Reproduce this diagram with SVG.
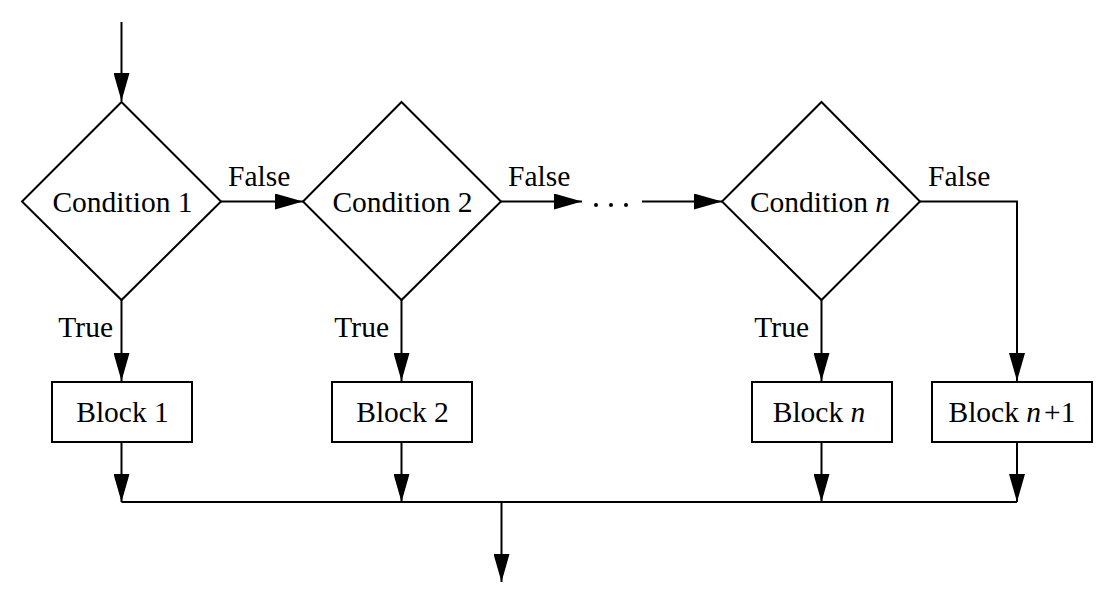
<svg xmlns="http://www.w3.org/2000/svg" width="1114" height="604" viewBox="0 0 1114 604">
<defs>
<marker id="ah" viewBox="0 0 28 16" refX="28" refY="8" markerWidth="28" markerHeight="16" markerUnits="userSpaceOnUse" orient="auto">
<path d="M0,0 L28,8 L0,16 Z" fill="#000"/>
</marker>
<style>
.s{fill:#fff;stroke:#000;stroke-width:2}
.c{fill:none;stroke:#000;stroke-width:2}
text{font-family:"Liberation Serif","Times New Roman",serif;font-size:29.5px;fill:#000}
.m{text-anchor:middle}
.i{font-style:italic}
</style>
</defs>
<rect width="1114" height="604" fill="#fff"/>
<g id="connectors">
<path class="c" d="M121.5,22 V101" marker-end="url(#ah)"/>
<path class="c" d="M221,201.5 H303" marker-end="url(#ah)"/>
<path class="c" d="M501,201.5 H582" marker-end="url(#ah)"/>
<path class="c" d="M642,201.5 H722" marker-end="url(#ah)"/>
<path class="c" d="M920,201.5 H1017 V381" marker-end="url(#ah)"/>
<path class="c" d="M121.5,300 V381" marker-end="url(#ah)"/>
<path class="c" d="M401.5,300 V381" marker-end="url(#ah)"/>
<path class="c" d="M821.5,300 V381" marker-end="url(#ah)"/>
<path class="c" d="M121.5,442 V502" marker-end="url(#ah)"/>
<path class="c" d="M401.5,442 V502" marker-end="url(#ah)"/>
<path class="c" d="M821.5,442 V502" marker-end="url(#ah)"/>
<path class="c" d="M1017,442 V502" marker-end="url(#ah)"/>
<path class="c" d="M121.5,502 H1017"/>
<path class="c" d="M501.5,502 V582" marker-end="url(#ah)"/>
<circle cx="596" cy="205" r="2" fill="#000"/>
<circle cx="611" cy="205" r="2" fill="#000"/>
<circle cx="626" cy="205" r="2" fill="#000"/>
<text x="228" y="186">False</text>
<text x="508" y="186">False</text>
<text x="928" y="186">False</text>
<text x="113" y="337" text-anchor="end">True</text>
<text x="389" y="337" text-anchor="end">True</text>
<text x="809" y="337" text-anchor="end">True</text>
</g>
<g id="cond1">
<path class="s" d="M121.5,102 L221,201.5 L121.5,300 L22,201.5 Z"/>
<text class="m" x="122.5" y="212">Condition 1</text>
</g>
<g id="cond2">
<path class="s" d="M401.5,102 L501,201.5 L401.5,300 L303,201.5 Z"/>
<text class="m" x="402.5" y="212">Condition 2</text>
</g>
<g id="condn">
<path class="s" d="M821.5,102 L920,201.5 L821.5,300 L722,201.5 Z"/>
<text class="m" x="820" y="212">Condition <tspan class="i">n</tspan></text>
</g>
<g id="block1">
<rect class="s" x="52" y="382" width="140" height="60"/>
<text class="m" x="122.5" y="422">Block 1</text>
</g>
<g id="block2">
<rect class="s" x="332" y="382" width="140" height="60"/>
<text class="m" x="402.5" y="422">Block 2</text>
</g>
<g id="blockn">
<rect class="s" x="752" y="382" width="140" height="60"/>
<text class="m" x="819" y="422">Block <tspan class="i">n</tspan></text>
</g>
<g id="blockn1">
<rect class="s" x="932" y="382" width="160" height="60"/>
<text class="m" x="1012" y="422">Block <tspan class="i">n</tspan><tspan dx="3">+1</tspan></text>
</g>
</svg>
